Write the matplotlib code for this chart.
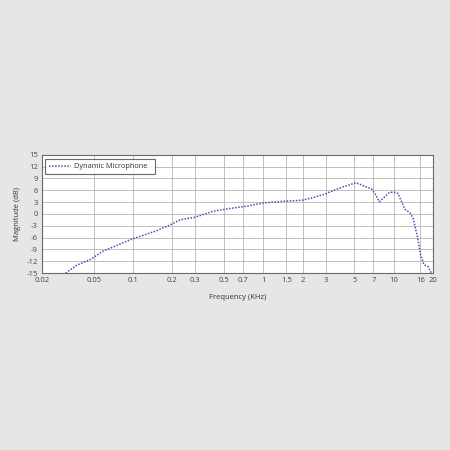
import matplotlib
matplotlib.use("Agg")
import matplotlib.pyplot as plt
from matplotlib.ticker import FixedLocator, NullLocator

plt.rcParams['font.family'] = ['Open Sans', 'DejaVu Sans']

freq_khz = [0.0304, 0.0369, 0.0473, 0.059, 0.0975, 0.15, 0.192, 0.229, 0.30, 0.413,
            0.555, 0.75, 1.0, 1.4, 1.8, 2.0, 2.5, 3.0, 3.25, 4.1, 5.14, 5.85, 6.78,
            7.3, 7.76, 8.3, 9.3, 10.2, 10.8, 12.2, 13.3, 14.1, 15.2, 16.1, 17.1,
            18.3, 19.5]
magnitude_db = [-15.0, -13.0, -11.5, -9.4, -6.4, -4.3, -2.8, -1.5, -0.8, 0.7,
                1.4, 2.0, 2.8, 3.2, 3.4, 3.5, 4.3, 5.1, 5.6, 6.9, 7.9, 7.2, 6.3,
                4.8, 3.1, 4.0, 5.5, 5.5, 5.2, 1.2, 0.3, -1.1, -5.7, -10.4, -12.9,
                -13.3, -15.0]

x_ticks = [0.02, 0.05, 0.1, 0.2, 0.3, 0.5, 0.7, 1, 1.5, 2, 3, 5, 7, 10, 16, 20]
x_tick_labels = ["0.02", "0.05", "0.1", "0.2", "0.3", "0.5", "0.7", "1", "1.5", "2",
                 "3", "5", "7", "10", "16", "20"]
y_ticks = [-15, -12, -9, -6, -3, 0, 3, 6, 9, 12, 15]
series_name = "Dynamic Microphone"

bg = "#e6e6e6"
fig = plt.figure(figsize=(4.5, 4.5), dpi=100, facecolor=bg)
ax = fig.add_axes([0.0933, 0.393, 0.8687, 0.263])
ax.set_facecolor("white")

ax.plot(freq_khz, magnitude_db, linestyle=(0, (1, 1)), color="#4d4dad",
        linewidth=1.1, label=series_name)

ax.set_xscale("log")
ax.set_xlim(0.02, 20)
ax.set_ylim(-15, 15)
ax.xaxis.set_major_locator(FixedLocator(x_ticks))
ax.xaxis.set_minor_locator(NullLocator())
ax.set_xticklabels(x_tick_labels)
ax.set_yticks(y_ticks)
ax.set_yticklabels([str(v) for v in y_ticks])

ax.grid(True, color="#b5b5b5", linewidth=0.6)
ax.set_axisbelow(True)
for s in ax.spines.values():
    s.set_color("#6a6a6a")
    s.set_linewidth(0.8)
ax.tick_params(length=0, labelsize=5.5, colors="#444444", pad=3)

ax.set_xlabel("Frequency (KHz)", fontsize=5.5, color="#333333", labelpad=7)
ax.set_ylabel("Magnitude (dB)", fontsize=5.5, color="#333333", labelpad=4)

leg = ax.legend(loc="upper left", fontsize=5.3, frameon=True, fancybox=False,
                edgecolor="#444444", bbox_to_anchor=(0.008, 0.965),
                handlelength=3.0, borderpad=0.55, handletextpad=0.4,
                borderaxespad=0.0)
leg.get_frame().set_linewidth(0.8)
for t in leg.get_texts():
    t.set_color("#333333")
    t.set_text(series_name + "  ")

fig.savefig("out.png", dpi=100, facecolor=bg)
